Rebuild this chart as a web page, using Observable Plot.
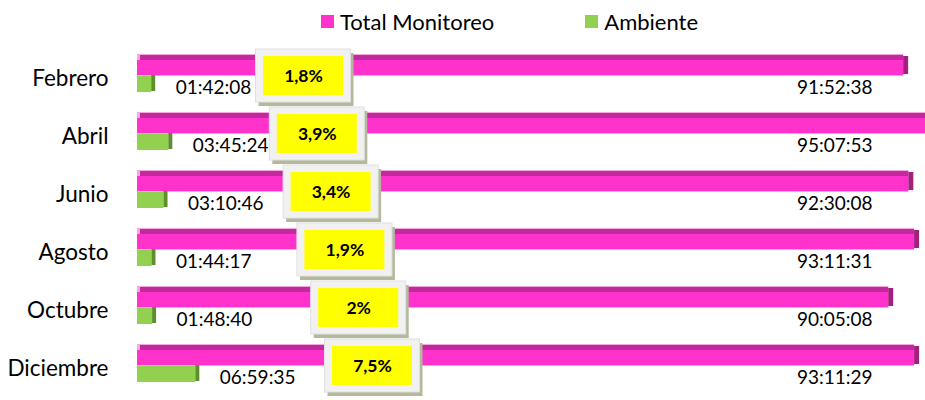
<!DOCTYPE html>
<html><head><meta charset="utf-8">
<script src="https://cdn.jsdelivr.net/npm/d3@7"></script>
<script src="https://cdn.jsdelivr.net/npm/@observablehq/plot@0.6"></script>
<style>
body{margin:0;background:#fff;font-family:Lato,"Open Sans",sans-serif;overflow:hidden;}
#legend{height:40px;box-sizing:border-box;padding-top:3px;padding-left:321px;display:flex;align-items:center;font-size:22px;line-height:26px;color:#000;}
#legend .item{display:flex;align-items:center;}
#legend .sw{width:13px;height:13px;margin-right:6px;}
#chart svg{display:block;}
</style></head><body>
<div id="legend"></div>
<div id="chart"></div>
<script>
const months = ["Febrero","Abril","Junio","Agosto","Octubre","Diciembre"];
const totalLabels = ["91:52:38","95:07:53","92:30:08","93:11:31","90:05:08","93:11:29"];
const ambienteLabels = ["01:42:08","03:45:24","03:10:46","01:44:17","01:48:40","06:59:35"];
const percentLabels = ["1,8%","3,9%","3,4%","1,9%","2%","7,5%"];
const seriesNames = ["Total Monitoreo","Ambiente"];
const seriesColors = ["#FF33CC","#92D050"];

const toH = s => { const [h,m,sec] = s.split(":").map(Number); return h + m/60 + sec/3600; };

// legend
const legend = document.getElementById("legend");
seriesNames.forEach((n,i) => {
  const it = document.createElement("div"); it.className = "item";
  if (i === 0) it.style.marginRight = "91px";
  const sw = document.createElement("div"); sw.className = "sw"; sw.style.background = seriesColors[i];
  const t = document.createElement("span"); t.textContent = n;
  it.appendChild(sw); it.appendChild(t); legend.appendChild(it);
});

const W = 925, H = 360, ML = 137, MR = 0;
const xMax = 94.5;
const pxPerH = (W - ML - MR) / xMax;
const px = p => p / pxPerH; // pixel length -> hours

const data = months.map((m, i) => ({
  month: m, i,
  total: toH(totalLabels[i]), amb: toH(ambienteLabels[i]),
  totalLabel: totalLabels[i], ambLabel: ambienteLabels[i], pct: percentLabels[i],
  box: px(166 + 13.8 * i) // box centre, placed progressively to the right per row
}));

const chart = Plot.plot({
  width: W, height: H,
  marginLeft: ML, marginRight: MR, marginTop: 9, marginBottom: 3,
  style: {fontFamily: "Lato, 'Open Sans', sans-serif", fontSize: "22.5px", color: "#000", background: "#fff"},
  x: {domain: [0, xMax], axis: null},
  y: {domain: months, padding: 0, tickSize: 0, tickPadding: 29, label: null},
  marks: [
    // Total Monitoreo: top face, front face, end face
    Plot.barX(data, {x1: 0, x2: "total", y: "month", fill: "#F6A6E0", insetTop: 5, insetBottom: 31, clip: true}),
    Plot.barX(data, {x1: 0, x2: "total", y: "month", fill: "#C2299C", insetTop: 6, insetBottom: 47, insetLeft: 3, clip: true}),
    Plot.barX(data, {x1: 0, x2: "total", y: "month", fill: seriesColors[0], insetTop: 11, insetBottom: 32, clip: true}),
    Plot.barX(data, {x1: "total", x2: d => d.total + px(5), y: "month", fill: "#A3207F", insetTop: 7, insetBottom: 33, clip: true}),
    // Ambiente
    Plot.barX(data, {x1: 0, x2: "amb", y: "month", fill: seriesColors[1], insetTop: 27, insetBottom: 15}),
    Plot.barX(data, {x1: "amb", x2: d => d.amb + px(4), y: "month", fill: "#5E8E2E", insetTop: 26, insetBottom: 16}),
    // value labels
    Plot.text(data, {x: "amb", y: "month", text: "ambLabel", dx: 24, dy: 9, textAnchor: "start", fontSize: 19, fill: "#000"}),
    Plot.text(data, {y: "month", text: "totalLabel", frameAnchor: "right", dx: -53, dy: 9, textAnchor: "end", fontSize: 19, fill: "#000"}),
    // percentage boxes
    Plot.barX(data, {x1: d => d.box - px(44.5), x2: d => d.box + px(50.5), y: "month", fill: "#B4B99C", insetTop: 4, insetBottom: 1}),
    Plot.barX(data, {x1: d => d.box - px(47.5), x2: d => d.box + px(47.5), y: "month", fill: "#F1F1F1", stroke: "#E0E0E0", strokeWidth: 1, insetTop: 0, insetBottom: 5}),
    Plot.barX(data, {x1: d => d.box - px(40), x2: d => d.box + px(40), y: "month", fill: "#FFFF00", insetTop: 7, insetBottom: 12}),
    Plot.text(data, {x: "box", y: "month", text: "pct", dy: -2, fontSize: 17.5, fontWeight: "bold", fill: "#000"})
  ]
});
document.getElementById("chart").appendChild(chart);
</script>
</body></html>
